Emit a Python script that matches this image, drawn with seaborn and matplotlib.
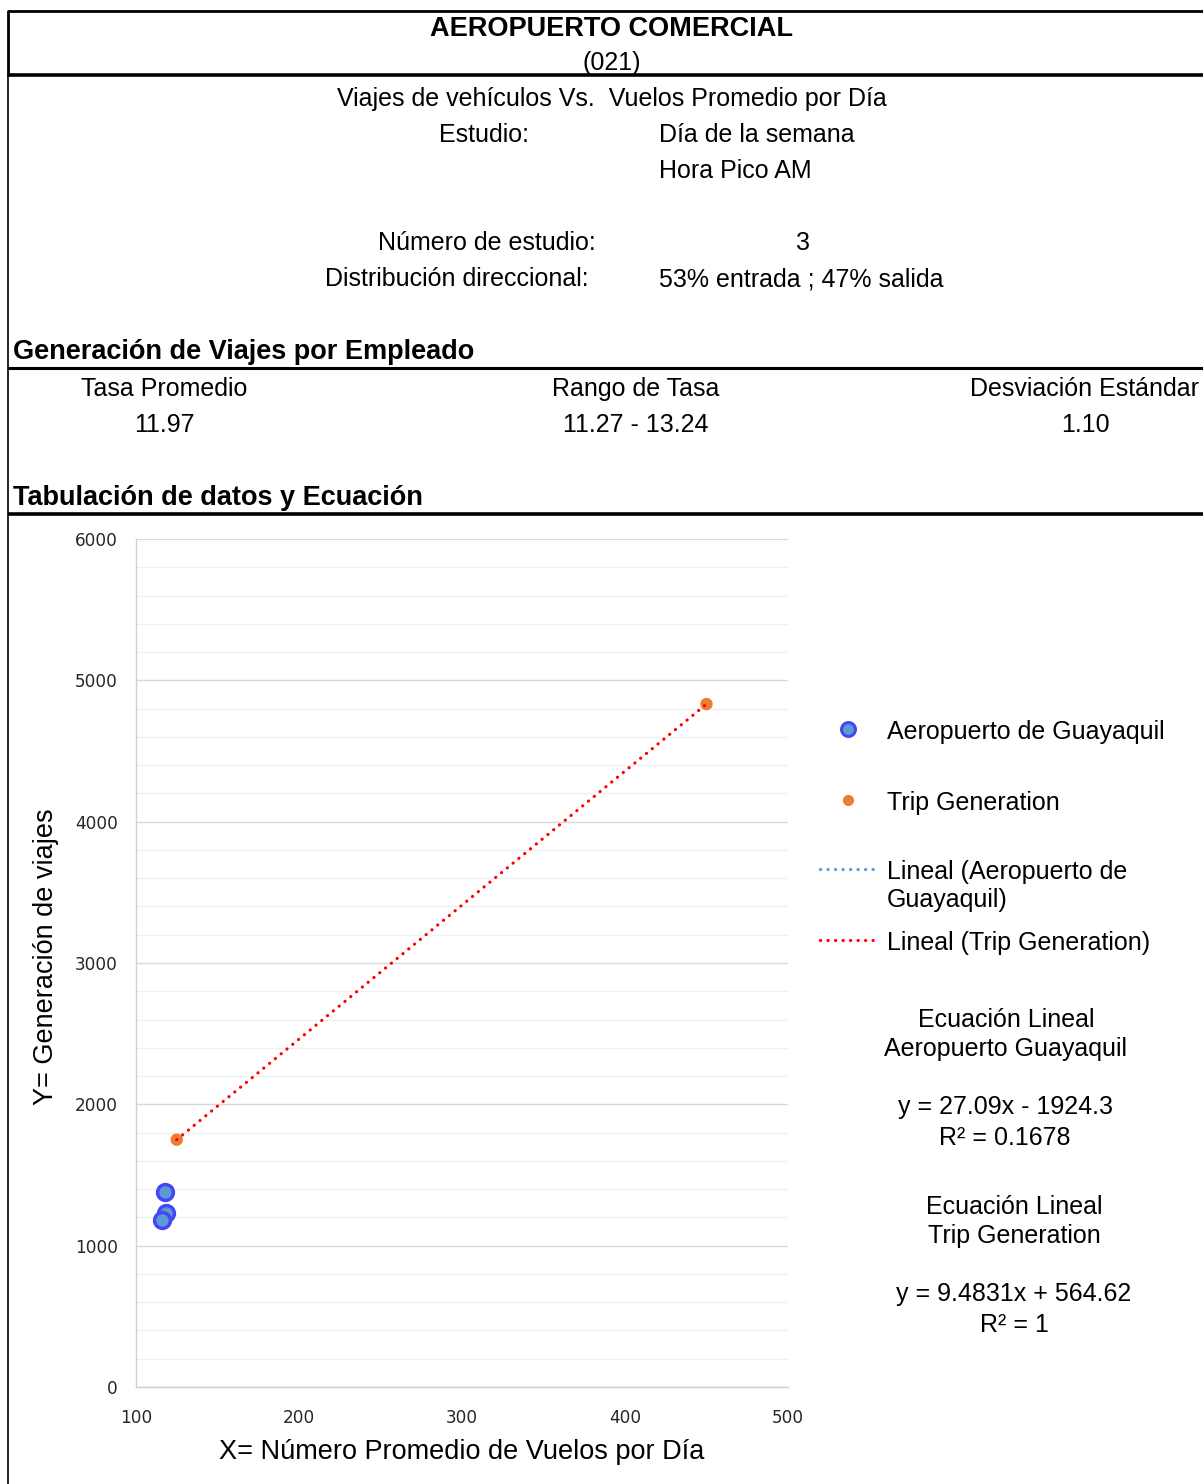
import numpy as np
import pandas as pd
import matplotlib
matplotlib.use("Agg")
import matplotlib.pyplot as plt
from matplotlib.lines import Line2D
from matplotlib.ticker import MultipleLocator
import seaborn as sns

# ---- data ----
gye_x = [117.8, 118.4, 116.0]          # Aeropuerto de Guayaquil: vuelos promedio por día
gye_y = [1380, 1230, 1180]             # viajes de vehículos
tg_x = [125, 450]                      # Trip Generation
tg_y = [1750.0, 4832.0]

gye_coef = [27.09, -1924.3]            # pendiente, intercepto
gye_r2 = "0.1678"
tg_coef = [9.4831, 564.62]
tg_r2 = "1"

x_ticks = [100, 200, 300, 400, 500]
y_ticks = [0, 1000, 2000, 3000, 4000, 5000, 6000]

series_names = ["Aeropuerto de Guayaquil", "Trip Generation",
                "Lineal (Aeropuerto de\nGuayaquil)", "Lineal (Trip Generation)"]

header_rate_titles = ["Tasa Promedio", "Rango de Tasa", "Desviación Estándar"]
header_rate_values = ["11.97", "11.27 - 13.24", "1.10"]

# ---- style ----
sns.set_theme(style="white")
plt.rcParams["font.family"] = ["Liberation Sans", "DejaVu Sans"]

W, H = 1203, 1484
fig = plt.figure(figsize=(W / 100, H / 100), dpi=100)
fig.patch.set_facecolor("white")

TEXT_DY = 2  # small downward nudge for centred text


def fx(px):
    return px / W


def fy(py):
    return 1 - py / H


def ftext(px, py, s, ha="center", size=18, weight="normal", **kw):
    fig.text(fx(px), fy(py + TEXT_DY), s, ha=ha, va="center", fontsize=size,
             fontweight=weight, color="black", **kw)


def hline(py, lw, x0=8, x1=1203):
    fig.add_artist(Line2D([fx(x0), fx(x1)], [fy(py), fy(py)],
                          transform=fig.transFigure, color="black", lw=lw,
                          solid_capstyle="butt"))


# frame lines
hline(11, 2.0)
hline(75, 2.6)
hline(368, 2.2)
hline(514, 2.6)
fig.add_artist(Line2D([fx(8), fx(8)], [fy(11), fy(75)], transform=fig.transFigure,
                      color="black", lw=2.0))
fig.add_artist(Line2D([fx(8), fx(8)], [fy(75), fy(1484)], transform=fig.transFigure,
                      color="black", lw=1.2))

# header text
ftext(612, 27, "AEROPUERTO COMERCIAL", size=19.5, weight="bold")
ftext(612, 61, "(021)")
ftext(612, 97, "Viajes de vehículos Vs.  Vuelos Promedio por Día")
ftext(484, 133, "Estudio:")
ftext(659, 133, "Día de la semana", ha="left")
ftext(659, 169, "Hora Pico AM", ha="left")
ftext(487, 241, "Número de estudio:")
ftext(803, 241, "3")
ftext(457, 277, "Distribución direccional:")
ftext(659, 277, "53% entrada ; 47% salida", ha="left")
ftext(13, 350, "Generación de Viajes por Empleado", ha="left", size=19.5, weight="bold")
for cx, t, v in zip([164, 636, 1085], header_rate_titles, header_rate_values):
    ftext(cx, 387, t)
    ftext(cx, 423, v)
ftext(13, 496, "Tabulación de datos y Ecuación", ha="left", size=19.5, weight="bold")

# ---- chart ----
ax = fig.add_axes([fx(136), fy(1387), fx(788) - fx(136), fy(539) - fy(1387)])
ax.set_facecolor("white")
ax.set_xlim(100, 500)
ax.set_ylim(0, 6000)
ax.set_xticks(x_ticks)
ax.set_yticks(y_ticks)
ax.yaxis.set_minor_locator(MultipleLocator(200))
ax.grid(False)
ax.grid(axis="y", which="major", color="#d9d9d9", lw=1.0, zorder=0)
ax.grid(axis="y", which="minor", color="#f0f0f0", lw=1.0, zorder=0)
for side in ["top", "right"]:
    ax.spines[side].set_visible(False)
for side in ["left", "bottom"]:
    ax.spines[side].set_color("#d0d0d0")
    ax.spines[side].set_linewidth(1.0)
ax.tick_params(axis="both", which="major", direction="out", length=5, width=1,
               color="#d0d0d0", labelsize=12.2)
ax.tick_params(axis="x", which="major", pad=11)
ax.tick_params(axis="y", which="major", pad=8)
ax.tick_params(axis="y", which="minor", length=0)
for lab in ax.get_xticklabels() + ax.get_yticklabels():
    lab.set_fontfamily("DejaVu Sans")

dotted = dict(lw=2.3, linestyle=(0, (0.05, 2.3)), dash_capstyle="round")

# trend lines drawn from the fitted coefficients over each data range
gxs = np.array([min(gye_x), max(gye_x)])
ax.plot(gxs, gye_coef[0] * gxs + gye_coef[1], color="#5b9bd5", zorder=2, **dotted)

df_gye = pd.DataFrame({"x": gye_x, "y": gye_y})
df_tg = pd.DataFrame({"x": tg_x, "y": tg_y})
sns.scatterplot(data=df_gye, x="x", y="y", ax=ax, s=130, color="#5b9bd5",
                edgecolor="#4646f2", linewidth=2.5, zorder=3, legend=False)
sns.scatterplot(data=df_tg, x="x", y="y", ax=ax, s=80, color="#ed7d31",
                edgecolor="none", zorder=3, legend=False)

txs = np.array([min(tg_x), max(tg_x)])
ax.plot(txs, tg_coef[0] * txs + tg_coef[1], color="#ff0000", zorder=4, **dotted)

ax.set_xlabel("")
ax.set_ylabel("")
ftext(462, 1450, "X= Número Promedio de Vuelos por Día", size=19.5)
fig.text(fx(46), fy(957), "Y= Generación de viajes", rotation=90, ha="center",
         va="center", fontsize=19.5, color="black")

# ---- legend ----
fig.add_artist(Line2D([fx(848)], [fy(729)], transform=fig.transFigure, marker="o",
                      ms=10, mfc="#5b9bd5", mec="#4646f2", mew=2.2, ls="none"))
fig.add_artist(Line2D([fx(848)], [fy(800)], transform=fig.transFigure, marker="o",
                      ms=8, mfc="#ed7d31", mec="none", ls="none"))
fig.add_artist(Line2D([fx(820), fx(873)], [fy(869), fy(869)], transform=fig.transFigure,
                      color="#5b9bd5", **dotted))
fig.add_artist(Line2D([fx(820), fx(873)], [fy(940), fy(940)], transform=fig.transFigure,
                      color="#ff0000", **dotted))
ftext(887, 730, series_names[0], ha="left")
ftext(887, 801, series_names[1], ha="left")
fig.text(fx(887), fy(860), series_names[2], ha="left", va="top", fontsize=18,
         linespacing=1.2, color="black")
ftext(887, 941, series_names[3], ha="left")

# ---- fitted equations ----
ftext(1006, 1018, "Ecuación Lineal")
ftext(1006, 1047, "Aeropuerto Guayaquil")
sign = "-" if gye_coef[1] < 0 else "+"
ftext(1006, 1105, f"y = {gye_coef[0]:g}x {sign} {abs(gye_coef[1]):g}")
ftext(1005, 1136, f"R² = {gye_r2}")
ftext(1014, 1205, "Ecuación Lineal")
ftext(1014, 1234, "Trip Generation")
sign = "-" if tg_coef[1] < 0 else "+"
ftext(1014, 1292, f"y = {tg_coef[0]:g}x {sign} {abs(tg_coef[1]):g}")
ftext(1014, 1323, f"R² = {tg_r2}")

fig.savefig("out.png", dpi=100, facecolor="white")
